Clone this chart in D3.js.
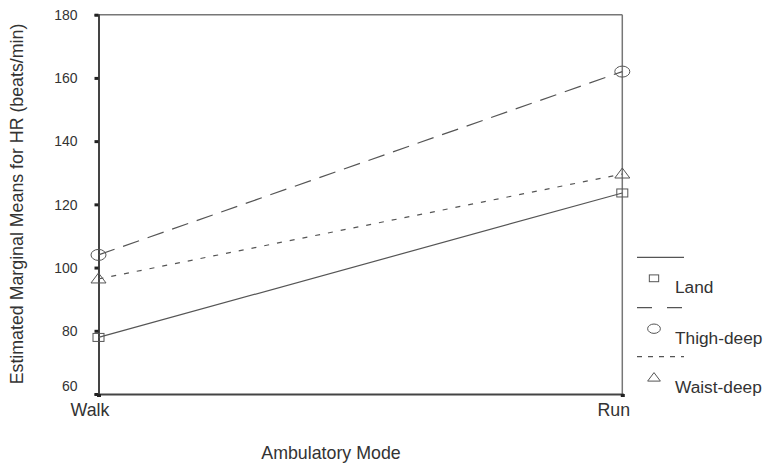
<!DOCTYPE html>
<html>
<head>
<meta charset="utf-8">
<script src="https://cdn.jsdelivr.net/npm/d3@7"></script>
<style>
html,body{margin:0;padding:0;background:#fff;}
svg{display:block;font-family:"Liberation Sans",Arial,sans-serif;}
</style>
</head>
<body>
<svg id="chart" width="764" height="463"></svg>
<script>
const categories = ["Walk", "Run"];
const seriesNames = ["Land", "Thigh-deep", "Waist-deep"];
const landValues = [77.9, 123.6];
const thighValues = [104.0, 162.0];
const waistValues = [96.4, 129.6];
const yTicks = [60, 80, 100, 120, 140, 160, 180];
const xTitle = "Ambulatory Mode";
const yTitle = "Estimated Marginal Means for HR (beats/min)";

const series = [
  {name: seriesNames[0], values: landValues, dash: null, marker: "square"},
  {name: seriesNames[1], values: thighValues, dash: "17,9", marker: "circle"},
  {name: seriesNames[2], values: waistValues, dash: "5,8", marker: "triangle"}
];

const svg = d3.select("#chart");
const L = 98.5, R = 622.3, T = 14.7, B = 394;
const textColor = "#333";
const lineColor = "#555";
const bigFont = "17.8px";

const x = d3.scalePoint().domain(categories).range([L, R]);
const y = d3.scaleLinear().domain([60, 180]).range([B, T]);

// frame (top/right)
svg.append("line").attr("x1", L).attr("x2", R).attr("y1", T).attr("y2", T)
  .attr("stroke", "#777").attr("stroke-width", 1.5);
svg.append("line").attr("x1", R).attr("x2", R).attr("y1", T).attr("y2", B)
  .attr("stroke", "#777").attr("stroke-width", 1.5);

// y axis
const yAxis = svg.append("g").attr("transform", `translate(${L},0)`)
  .call(d3.axisLeft(y).tickValues(yTicks).tickSize(4).tickPadding(17).tickFormat(d3.format("d")));
yAxis.select(".domain").attr("stroke", "#444").attr("stroke-width", 2);
yAxis.selectAll(".tick line").attr("stroke", "#222").attr("stroke-width", 3);
yAxis.selectAll(".tick text").attr("fill", textColor).style("font-size", "14px")
  .style("font-family", "'Liberation Sans',Arial,sans-serif")
  .attr("dy", d => d === 60 ? "-0.22em" : "0.34em");

// x axis
const xAxis = svg.append("g").attr("transform", `translate(0,${B})`)
  .call(d3.axisBottom(x).tickSize(3).tickPadding(6));
xAxis.select(".domain").attr("stroke", "#444").attr("stroke-width", 2);
xAxis.selectAll(".tick line").attr("stroke", "#222").attr("stroke-width", 4);
xAxis.selectAll(".tick text").attr("fill", textColor).style("font-size", bigFont)
  .style("font-family", "'Liberation Sans',Arial,sans-serif")
  .attr("dx", "-9px");

// markers
function drawMarker(g, type, cx, cy, s) {
  if (type === "square") {
    g.append("rect").attr("x", cx - 5.5 * s).attr("y", cy - 4 * s)
      .attr("width", 11 * s).attr("height", 8 * s)
      .attr("fill", "none").attr("stroke", lineColor).attr("stroke-width", 1);
  } else if (type === "circle") {
    g.append("ellipse").attr("cx", cx).attr("cy", cy).attr("rx", 7.5 * s).attr("ry", 5.5 * s)
      .attr("fill", "none").attr("stroke", lineColor).attr("stroke-width", 1);
  } else {
    const w = 7.5 * s, h = 10 * s;
    g.append("path")
      .attr("d", `M${cx},${cy - h * 0.6}L${cx + w},${cy + h * 0.4}L${cx - w},${cy + h * 0.4}Z`)
      .attr("fill", "none").attr("stroke", lineColor).attr("stroke-width", 1);
  }
}

const line = d3.line().x((d, i) => x(categories[i])).y(d => y(d));
const plot = svg.append("g");
series.forEach(s => {
  plot.append("path").datum(s.values).attr("d", line)
    .attr("fill", "none").attr("stroke", lineColor).attr("stroke-width", 1.2)
    .attr("stroke-dasharray", s.dash);
  s.values.forEach((v, i) => drawMarker(plot, s.marker, x(categories[i]), y(v), 1));
});

// legend
const legY = [257.3, 307.7, 356.7];
const legendDash = [null, "15,15", "5,6"];
const leg = svg.append("g");
series.forEach((s, i) => {
  leg.append("line").attr("x1", 637).attr("x2", 684).attr("y1", legY[i]).attr("y2", legY[i])
    .attr("stroke", lineColor).attr("stroke-width", 1.2).attr("stroke-dasharray", legendDash[i]);
  drawMarker(leg, s.marker, 654, legY[i] + 21, 0.85);
  leg.append("text").attr("x", 675).attr("y", legY[i] + 36)
    .attr("fill", textColor).style("font-size", "17.3px").text(s.name);
});

// axis titles
svg.append("text").attr("x", 331).attr("y", 458.5).attr("text-anchor", "middle")
  .attr("fill", textColor).style("font-size", bigFont).text(xTitle);
svg.append("text").attr("transform", "translate(23,204) rotate(-90)").attr("text-anchor", "middle")
  .attr("fill", textColor).style("font-size", bigFont).text(yTitle);
</script>
</body>
</html>
